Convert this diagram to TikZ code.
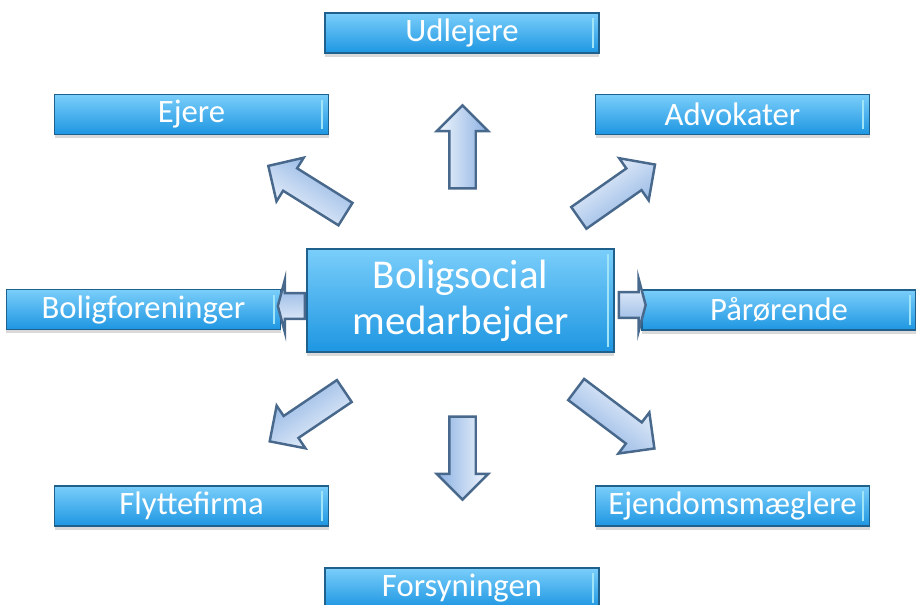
\documentclass[tikz,border=0pt]{standalone}
\usepackage{fontspec}
\setmainfont{Carlito}
\usetikzlibrary{shapes.arrows,shadows}
\definecolor{boxtop}{RGB}{122,206,250}
\definecolor{boxbot}{RGB}{30,150,226}
\definecolor{boxline}{RGB}{32,96,140}
\definecolor{boxshine}{RGB}{160,228,248}
\definecolor{arrtop}{RGB}{242,247,253}
\definecolor{arrbot}{RGB}{138,176,226}
\definecolor{arrline}{RGB}{72,104,140}
\tikzset{
	rolebox/.style={rectangle, minimum width=5.48cm, minimum height=0.8cm, inner sep=0pt,
		top color=boxtop, bottom color=boxbot, draw=boxline, line width=0.9pt,
		text=white, font=\fontsize{18.6}{21}\selectfont,
		drop shadow={shadow xshift=0pt, shadow yshift=-2pt, opacity=0.3},
		path picture={\draw[boxshine, line width=1.1pt]
			([xshift=-3.5pt, yshift=3pt]path picture bounding box.south east) --
			([xshift=-3.5pt, yshift=-3pt]path picture bounding box.north east);}},
	centerbox/.style={rolebox, minimum width=6.14cm, minimum height=2.06cm,
		font=\fontsize{23.3}{26}\selectfont, align=center},
	bigarrow/.style={single arrow, draw=arrline, line width=1.4pt,
		top color=arrtop, bottom color=arrbot, shading angle=#1, rotate=#1,
		inner sep=0.24cm, minimum width=1.0cm, single arrow tip angle=90},
	stubarrow/.style={bigarrow=#1, inner sep=0.21cm, minimum width=1.06cm,
		minimum height=0.36cm, single arrow tip angle=150}
}
\begin{document}
\begin{tikzpicture}
		%%%%% START %%%%%
		\useasboundingbox (0, 0) rectangle (18.32, -12.1);
		
		\node[centerbox] (medarb) at (9.21, -6.01) {Boligsocial\\medarbejder};
		
		\node[rolebox] (udlejere) at (9.24, -0.66) {Udlejere};
		\node[rolebox] (ejere) at (3.83, -2.29) {Ejere};
		\node[rolebox] (advokater) at (14.65, -2.29) {Advokater};
		\node[rolebox] (boligfor) at (2.87, -6.19) {Boligforeninger};
		\node[rolebox] (paaroer) at (15.58, -6.2) {Pårørende};
		\node[rolebox] (flytte) at (3.83, -10.12) {Flyttefirma};
		\node[rolebox] (maegler) at (14.65, -10.12) {Ejendomsmæglere};
		\node[rolebox] (forsyn) at (9.24, -11.76) {Forsyningen};
		
		% block arrows out of the centre box
		\node[bigarrow=90, minimum height=1.66cm] (toUdlejere) at (9.25, -3.07) {};
		\node[bigarrow=-90, minimum height=1.66cm] (toForsyn) at (9.25, -9.03) {};
		\node[bigarrow=148, minimum height=1.82cm] (toEjere) at (6.25, -3.87) {};
		\node[bigarrow=35, minimum height=1.86cm] (toAdvokater) at (12.23, -3.9) {};
		\node[bigarrow=214, minimum height=1.8cm] (toFlytte) at (6.25, -8.25) {};
		\node[bigarrow=-37, minimum height=1.96cm] (toMaegler) at (12.2, -8.3) {};
		
		\node[stubarrow=180] (toBoligfor) at (5.86, -6.12) {};
		\node[stubarrow=0] (toPaaroer) at (12.61, -6.1) {};
		
		%%%%% END %%%%%
\end{tikzpicture}
\end{document}
